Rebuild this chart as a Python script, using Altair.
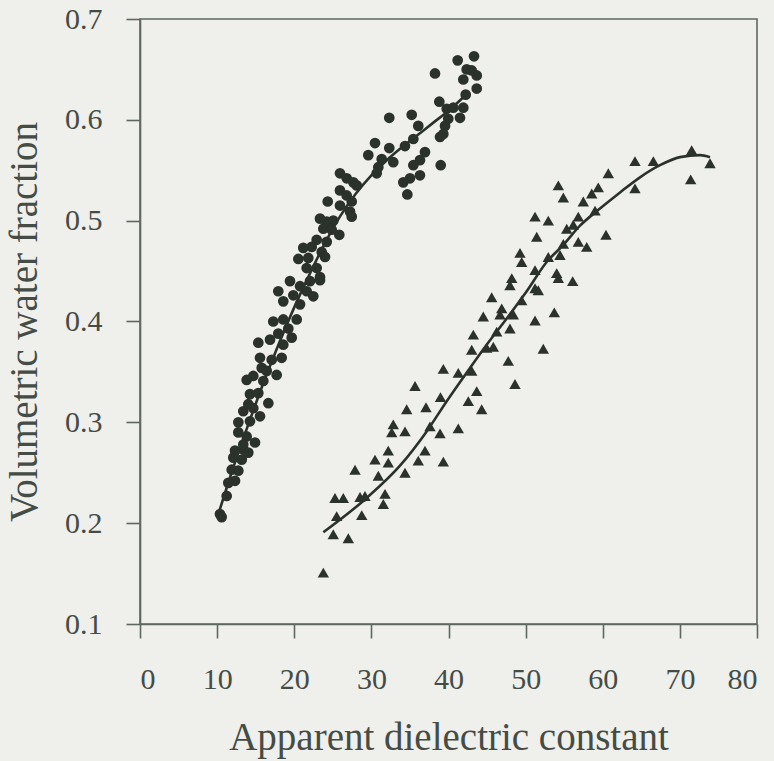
import altair as alt
import pandas as pd

# Circles (series 1)
circle_x = [43.31,41.19,42.36,43.01,43.66,38.25,41.92,43.66,42.23,38.81,
            39.77,40.62,41.92,41.49,39.97,39.55,32.32,35.23,36.08,38.90,
            39.33,35.44,34.36,30.47,32.32,29.60,31.34,32.84,36.95,36.30,
            35.44,38.99,30.69,30.90,36.30,35.01,34.14,34.66,25.93,26.80,
            27.66,28.10,25.93,26.80,27.45,24.34,25.93,27.23,23.34,24.21,
            25.06,27.45,23.77,24.86,25.84,22.91,24.21,21.17,22.26,23.56,
            20.53,21.82,23.99,21.61,22.91,23.34,19.45,20.75,21.61,17.93,
            19.88,
            22.04,23.34,22.47,18.58,20.75,17.28,18.58,20.32,19.23,17.93,
            19.67,18.58,15.34,16.86,15.56,17.08,18.37,15.78,17.72,16.43,
            13.83,14.69,15.99,14.26,15.34,16.64,14.04,13.39,14.69,15.56,
            12.75,14.26,12.75,13.83,13.39,14.91,12.32,13.39,14.04,12.10,
            13.19,11.89,12.75,12.32,11.45,11.24,10.37,10.59]
circle_y = [0.663,0.659,0.650,0.649,0.644,0.646,0.640,0.631,0.625,0.618,
            0.611,0.612,0.612,0.602,0.601,0.594,0.602,0.605,0.594,0.583,
            0.586,0.581,0.574,0.577,0.572,0.565,0.561,0.558,0.568,0.560,
            0.555,0.555,0.547,0.553,0.545,0.542,0.538,0.526,0.547,0.542,
            0.538,0.535,0.530,0.525,0.519,0.519,0.515,0.509,0.502,0.499,
            0.500,0.504,0.492,0.491,0.486,0.481,0.479,0.473,0.474,0.469,
            0.462,0.463,0.464,0.453,0.453,0.444,0.440,0.435,0.430,0.430,
            0.426,
            0.440,0.441,0.425,0.420,0.417,0.400,0.402,0.402,0.393,0.388,
            0.384,0.377,0.379,0.382,0.364,0.362,0.364,0.354,0.347,0.351,
            0.342,0.346,0.341,0.328,0.329,0.319,0.318,0.311,0.314,0.306,
            0.300,0.301,0.290,0.286,0.278,0.280,0.272,0.273,0.270,0.265,
            0.263,0.253,0.252,0.242,0.240,0.227,0.209,0.206]

# Triangles (series 2)
tri_x = [71.53,73.91,64.18,66.56,71.40,64.18,60.72,59.42,58.57,57.48,
         59.00,54.24,54.89,51.22,52.94,56.83,55.33,56.18,60.42,51.44,
         56.83,57.92,54.89,54.46,49.27,49.49,52.94,51.22,54.03,54.24,
         56.10,48.20,47.97,51.22,51.64,45.60,49.49,44.51,46.90,46.68,
         48.40,53.72,51.22,47.97,43.22,46.25,43.01,44.95,45.81,52.29,
         47.75,39.33,41.27,43.01,48.62,35.66,43.66,38.96,42.57,44.30,
         34.58,37.08,32.84,32.64,34.36,37.60,38.90,41.27,32.19,30.47,
         36.95,36.08,39.33,32.19,34.36,27.88,30.90,25.28,26.36,28.53,
         29.17,31.77,31.55,28.75,25.50,25.06,27.01,23.77]
tri_y = [0.570,0.557,0.559,0.559,0.541,0.532,0.547,0.533,0.527,0.519,
         0.510,0.535,0.523,0.504,0.500,0.504,0.492,0.496,0.486,0.484,
         0.479,0.474,0.477,0.466,0.468,0.459,0.464,0.451,0.448,0.443,
         0.440,0.443,0.436,0.433,0.431,0.424,0.421,0.405,0.413,0.407,
         0.407,0.409,0.401,0.393,0.387,0.390,0.372,0.374,0.375,0.373,
         0.361,0.353,0.349,0.351,0.338,0.336,0.331,0.325,0.321,0.313,
         0.313,0.315,0.298,0.290,0.291,0.296,0.289,0.294,0.272,0.263,
         0.272,0.262,0.261,0.260,0.250,0.253,0.247,0.225,0.225,0.226,
         0.227,0.229,0.219,0.208,0.207,0.189,0.185,0.151]

# Fitted curves
circle_fit_x = [10, 12, 14, 16, 18, 20, 22, 24, 26, 28, 30, 32, 34, 36, 38, 40, 42]
circle_fit_y = [0.205, 0.253, 0.297, 0.339, 0.378, 0.414, 0.447, 0.478, 0.505,
                0.527, 0.545, 0.560, 0.573, 0.585, 0.597, 0.609, 0.623]
tri_fit_x = [23.77, 29.39, 33.71, 37.17, 39.77, 42.79, 44.95, 47.55, 50.14, 52.73,
             54.89, 57.05, 59.64, 62.24, 64.83, 67.42, 70.02, 72.61, 73.91]
tri_fit_y = [0.191, 0.225, 0.257, 0.291, 0.321, 0.354, 0.377, 0.403, 0.430, 0.459,
             0.476, 0.495, 0.512, 0.528, 0.543, 0.555, 0.563, 0.565, 0.563]

x_ticks = [0, 10, 20, 30, 40, 50, 60, 70, 80]
y_ticks = [0.1, 0.2, 0.3, 0.4, 0.5, 0.6, 0.7]

df_c = pd.DataFrame({"x": circle_x, "y": circle_y})
df_t = pd.DataFrame({"x": tri_x, "y": tri_y})
df_cf = pd.DataFrame({"x": circle_fit_x, "y": circle_fit_y})
df_tf = pd.DataFrame({"x": tri_fit_x, "y": tri_fit_y})

INK = "#2b322b"
AXIS = "#5e6860"
TXT = "#454c45"
FONT = "Liberation Serif"

xs = alt.Scale(domain=[0, 80], nice=False, zero=False)
ys = alt.Scale(domain=[0.1, 0.7], nice=False, zero=False)

common = dict(grid=False, tickSize=14, tickColor=AXIS, tickWidth=1.6,
              domainColor=AXIS, domainWidth=1.6,
              labelFont=FONT, labelFontSize=30, labelColor=TXT,
              titleFont=FONT, titleFontSize=39, titleFontWeight="normal",
              titleColor=TXT)

xax = alt.Axis(values=x_ticks, title="Apparent dielectric constant",
               labelPadding=26, titlePadding=24, format="d", **common)
yax = alt.Axis(values=y_ticks, title="Volumetric water fraction",
               labelPadding=24, titlePadding=20, format=".1f", **common)

X = alt.X("x:Q", scale=xs, axis=xax)
Y = alt.Y("y:Q", scale=ys, axis=yax)

c_fit = alt.Chart(df_cf).mark_line(color=INK, strokeWidth=2.6, interpolate="monotone").encode(x=X, y=Y)
t_fit = alt.Chart(df_tf).mark_line(color=INK, strokeWidth=2.6, interpolate="monotone").encode(x=X, y=Y)
c_pts = alt.Chart(df_c).mark_point(shape="circle", filled=True, size=115, opacity=1,
                                   color=INK, strokeWidth=0).encode(x=X, y=Y)
t_pts = alt.Chart(df_t).mark_point(shape="triangle-up", filled=True, size=130, opacity=1,
                                   color=INK, strokeWidth=0).encode(x=X, y=Y)

chart = alt.layer(c_fit, t_fit, c_pts, t_pts).properties(
    width=617, height=605,
    autosize=alt.AutoSizeParams(type="none"),
    padding={"left": 140, "top": 19, "right": 17, "bottom": 137},
    background="#efefec",
).configure_view(
    stroke=AXIS, strokeWidth=1.6, fill=None
)

chart.save("out.html", embed_options={"renderer": "svg", "actions": False})
